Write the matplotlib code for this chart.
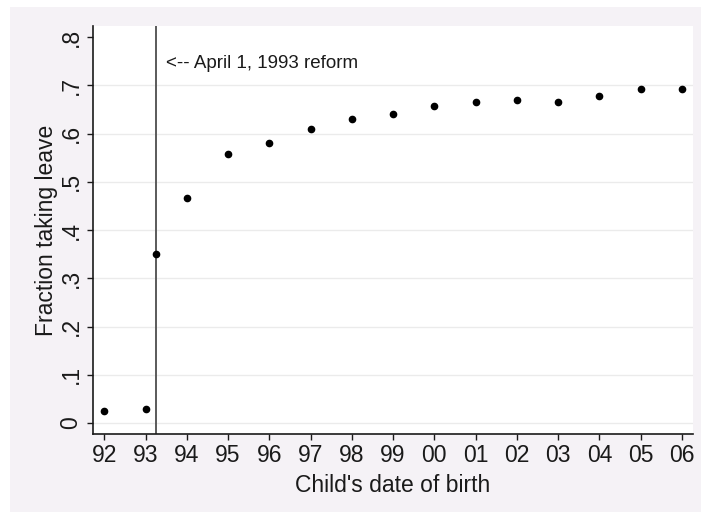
import numpy as np
import matplotlib.pyplot as plt
from matplotlib.patches import Rectangle

plt.rcParams['font.family'] = ['Liberation Sans', 'DejaVu Sans']

# birth date (year, 92 = 1992, 100 = 2000) and fraction taking leave
birth = [92, 93, 93.25, 94, 95, 96, 97, 98, 99, 100, 101, 102, 103, 104, 105, 106]
frac = [0.024, 0.029, 0.351, 0.466, 0.558, 0.580, 0.610, 0.631, 0.640,
        0.658, 0.665, 0.670, 0.665, 0.678, 0.692, 0.692]
xticks = list(range(92, 107))
xlabels = ['92', '93', '94', '95', '96', '97', '98', '99',
           '00', '01', '02', '03', '04', '05', '06']
yticks = [0, 0.1, 0.2, 0.3, 0.4, 0.5, 0.6, 0.7, 0.8]
ylabels = ['0', '.1', '.2', '.3', '.4', '.5', '.6', '.7', '.8']
reform = 93.25

W, H = 701, 512
fig = plt.figure(figsize=(W / 100, H / 100), dpi=100, facecolor='white')
# lavender graph region (stata style)
fig.patches.append(Rectangle((10 / W, 0), 1, (H - 7) / H, transform=fig.transFigure,
                             facecolor='#f5f2f6', edgecolor='none', zorder=-1))

ax = fig.add_axes([93 / W, (H - 434) / H, 600 / W, (434 - 26) / H])
ax.set_facecolor('white')

for yv in yticks[:-1]:
    ax.axhline(yv, color='#ebebeb', lw=1, zorder=1)

ax.axvline(reform, color='#5a5a5a', lw=1.4, zorder=2)
ax.plot(birth, frac, 'o', color='black', ms=4.5, zorder=3)
ax.text(93.49, 0.745, '<-- April 1, 1993 reform', fontsize=13.5,
        color='#1a1a1a', va='center', ha='left')

ax.set_xlim(91.726, 106.27)
ax.set_ylim(-0.0228, 0.823)
ax.set_xticks(xticks)
ax.set_xticklabels(xlabels)
ax.set_yticks(yticks)
ax.set_yticklabels(ylabels, rotation=90, va='center')

for s in ['top', 'right']:
    ax.spines[s].set_visible(False)
for s in ['left', 'bottom']:
    ax.spines[s].set_color('#1a1a1a')
    ax.spines[s].set_linewidth(1.2)
ax.tick_params(axis='both', length=4.5, width=1, color='#1a1a1a',
               labelsize=16.5, labelcolor='#1a1a1a')
ax.tick_params(axis='x', pad=2.5)
ax.tick_params(axis='y', pad=3)

ax.set_xlabel("Child's date of birth", fontsize=16.5, color='#1a1a1a', labelpad=5)
ax.set_ylabel('Fraction taking leave', fontsize=16.5, color='#1a1a1a', labelpad=1)

fig.savefig('out.png', dpi=100, facecolor=fig.get_facecolor())
